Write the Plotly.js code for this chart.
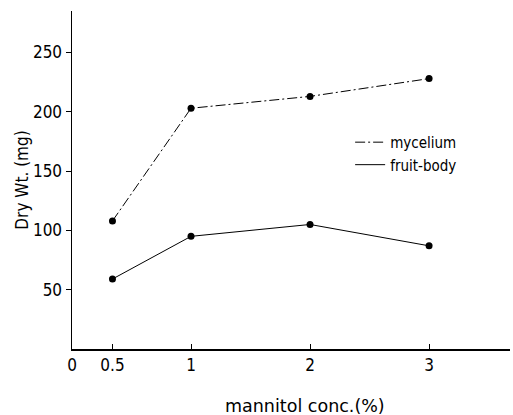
<!DOCTYPE html>
<html>
<head>
<meta charset="utf-8">
<script src="https://cdn.plot.ly/plotly-3.0.1.min.js"></script>
<style>html,body{margin:0;padding:0;background:#fff;}#chart{width:513px;height:415px;}</style>
</head>
<body>
<div id="chart"></div>
<script>
// Tick labels for mannitol concentration (%) and their position on the drawn axis
const concLabels = ['0', '0.5', '1', '2', '3'];
const concAxisPos = [0, 0.34, 1, 2, 3];
// Data x positions (0.5 % point is drawn at 0.34 on the printed axis)
const concX = [0.34, 1, 2, 3];
const mycelium = [108, 203, 213, 228];
const fruitBody = [59, 95, 105, 87];
const yTicks = [50, 100, 150, 200, 250];

const font = {family: 'DejaVu Sans Condensed, DejaVu Sans', color: '#000'};
const wideFont = {family: 'DejaVu Sans', color: '#000'};

const traces = [
  {x: concX, y: mycelium, mode: 'lines+markers', showlegend: false,
   line: {color: '#000', width: 1, dash: '10px,3px,2px,3px'},
   marker: {color: '#000', size: 7}},
  {x: concX, y: fruitBody, mode: 'lines+markers', showlegend: false,
   line: {color: '#000', width: 1},
   marker: {color: '#000', size: 7}},
  {x: [null], y: [null], mode: 'lines', name: 'mycelium',
   line: {color: '#000', width: 1, dash: '10px,3px,2px,3px'}},
  {x: [null], y: [null], mode: 'lines', name: 'fruit-body',
   line: {color: '#000', width: 1}}
];

const layout = {
  width: 513, height: 415,
  margin: {l: 72, r: 3, t: 11, b: 66},
  paper_bgcolor: '#fff', plot_bgcolor: '#fff',
  font: Object.assign({size: 15}, font),
  xaxis: {
    range: [0, 3.68], showgrid: false, zeroline: false,
    showline: true, linecolor: '#000', linewidth: 1.5,
    tickmode: 'array', tickvals: concAxisPos, ticktext: concLabels,
    ticks: 'inside', ticklen: 5, tickcolor: '#000',
    tickfont: Object.assign({size: 17}, font)
  },
  yaxis: {
    range: [0, 285], showgrid: false, zeroline: false,
    showline: true, linecolor: '#000', linewidth: 1.5,
    tickmode: 'array', tickvals: yTicks,
    ticks: 'outside', ticklen: 5, tickcolor: '#000',
    tickfont: Object.assign({size: 17}, font),
    title: {text: 'Dry Wt. (mg)', font: Object.assign({size: 17}, font), standoff: 0}
  },
  annotations: [{
    text: 'mannitol conc.(%)', xref: 'paper', yref: 'paper',
    x: 0.532, y: -0.17, xanchor: 'center', yanchor: 'middle',
    showarrow: false, font: Object.assign({size: 17.5}, wideFont)
  }],
  legend: {
    x: 0.635, y: 0.66, xanchor: 'left', yanchor: 'top',
    bgcolor: 'rgba(0,0,0,0)', borderwidth: 0,
    font: Object.assign({size: 15}, font),
    tracegroupgap: 0
  },
  showlegend: true
};

Plotly.newPlot('chart', traces, layout, {staticPlot: true, displayModeBar: false});
</script>
</body>
</html>
